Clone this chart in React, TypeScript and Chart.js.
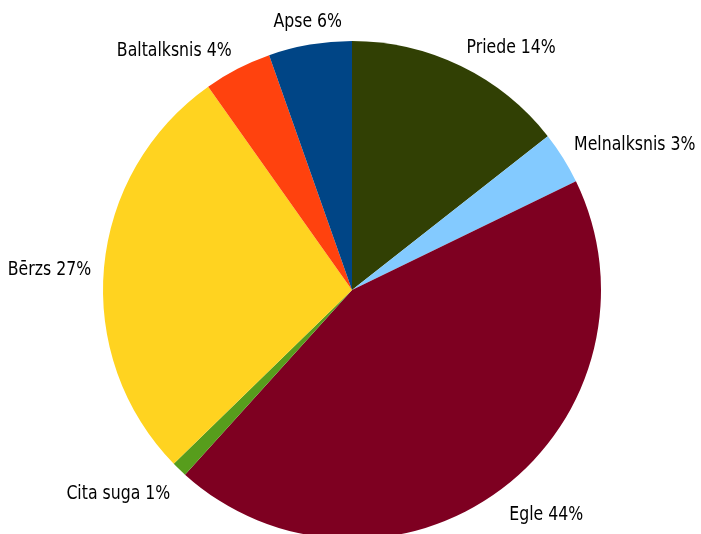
import React, { useEffect, useRef } from "react";
import { Chart, registerables } from "chart.js";

Chart.register(...registerables);

const categories = ["Priede", "Melnalksnis", "Egle", "Cita suga", "Bērzs", "Baltalksnis", "Apse"];
const shares = [14.4, 3.4, 43.9, 1.0, 27.5, 4.4, 5.4];
const percentLabels = ["14%", "3%", "44%", "1%", "27%", "4%", "6%"];
const colors = ["#314004", "#83caff", "#7e0021", "#579d1c", "#ffd320", "#ff420e", "#004586"];

const FONT = "'DejaVu Sans Condensed', sans-serif";
const SCALE_X = 0.92;

const outsideLabels = {
  id: "outsideLabels",
  afterDatasetsDraw(chart: any) {
    const ctx = chart.ctx;
    const meta = chart.getDatasetMeta(0);
    ctx.save();
    ctx.font = `19px ${FONT}`;
    ctx.fillStyle = "#000000";
    ctx.textBaseline = "alphabetic";
    ctx.textAlign = "left";
    meta.data.forEach((arc: any, i: number) => {
      const p = arc.getProps(["x", "y", "startAngle", "endAngle", "outerRadius"], true);
      const mid = (p.startAngle + p.endAngle) / 2;
      const R = p.outerRadius + 13;
      const ax = p.x + Math.cos(mid) * R;
      const ay = p.y + Math.sin(mid) * R;
      const c = Math.cos(mid);
      const s = Math.sin(mid);
      const text = `${categories[i]} ${percentLabels[i]}`;
      const m = ctx.measureText(text);
      const w = m.width * SCALE_X;
      const asc = m.actualBoundingBoxAscent;
      const desc = m.actualBoundingBoxDescent;
      let left: number;
      if (Math.abs(c) < 0.3) left = ax - w / 2;
      else if (c > 0) left = ax;
      else left = ax - w;
      let base: number;
      if (Math.abs(s) < 0.3) base = ay + (asc - desc) / 2 + 1;
      else if (s < 0) base = ay - desc - 1;
      else base = ay + asc + 5;
      ctx.save();
      ctx.translate(left, base);
      ctx.scale(SCALE_X, 1);
      ctx.fillText(text, 0, 0);
      ctx.restore();
    });
    ctx.restore();
  },
};

export default function App() {
  const ref = useRef<HTMLCanvasElement>(null);
  useEffect(() => {
    document.body.style.margin = "0";
    const chart = new Chart(ref.current!, {
      type: "pie",
      data: {
        labels: categories,
        datasets: [
          {
            data: shares,
            backgroundColor: colors,
            borderWidth: 0,
          },
        ],
      },
      options: {
        responsive: false,
        animation: false,
        layout: { padding: { top: 41, bottom: 1, left: 3, right: 0 } },
        plugins: {
          legend: { display: false },
          tooltip: { enabled: false },
        },
      },
      plugins: [outsideLabels],
    });
    return () => chart.destroy();
  }, []);
  return (
    <div style={{ width: 701, height: 534, overflow: "hidden", background: "#ffffff" }}>
      <canvas ref={ref} width={701} height={540} />
    </div>
  );
}
